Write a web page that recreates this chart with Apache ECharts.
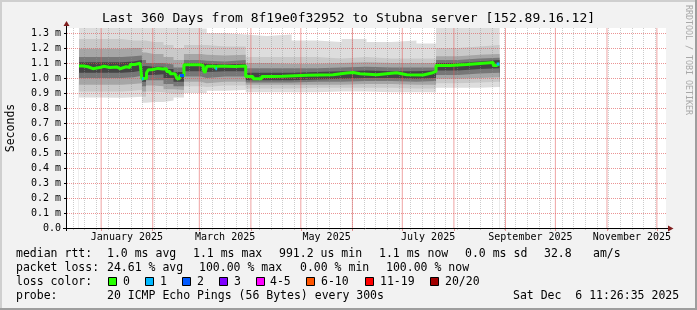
<!DOCTYPE html>
<html><head><meta charset="utf-8">
<script src="https://cdn.jsdelivr.net/npm/echarts@6/dist/echarts.min.js"></script>
<style>html,body{margin:0;padding:0;background:#f2f2f2}#c{width:697px;height:310px}</style>
</head><body><div id="c"></div>
<script>
// ---------- data (x = days since start of the 360 day window, y = ms) ----------
const medianDay = [7.2, 9.6, 12.6, 15.6, 20.4, 22.2, 25.8, 29.9, 31.9, 35.5, 37.9, 40.9, 43.9,
  45.0, 46.0, 47.8, 48.9, 50.9, 54.7, 57.7, 59.9, 61.9, 64.9, 66.1, 67.6, 67.9,
  70.3, 79.9, 81.9, 82.9, 84.0, 89.2, 90.2, 95.0, 101,
  107.4, 111.8, 117, 123, 129.8, 137, 144.1, 152, 159.9, 168.1, 172.1, 176.1, 186.1, 198.1, 204.2, 214.1, 219.2,
  221.8, 230.2, 240.2, 250.2, 256.2, 258.2, 259.9];
const medianVal = [1.080, 1.075, 1.062, 1.072, 1.078, 1.070, 1.074, 1.062, 1.075, 1.070, 1.090, 1.099, 1.105,
  0.995, 0.998, 1.035, 1.055, 1.064, 1.060, 1.062, 1.044, 1.029, 1.017, 0.995, 1.000, 1.017,
  1.088, 1.083, 1.055, 1.035, 1.078, 1.062, 1.078, 1.076, 1.080,
  1.010, 0.995, 1.010, 1.012, 1.015, 1.018, 1.020, 1.022, 1.033, 1.037, 1.028, 1.022, 1.035, 1.022, 1.020, 1.033, 1.044,
  1.083, 1.090, 1.099, 1.104, 1.083, 1.094, 1.094];

// loss markers on the median line: [startDay, endDay, value]
const loss1Segments = [[45.0, 46.0, 0.995], [89.2, 90.2, 1.062], [258.2, 259.9, 1.094]];
const loss2Segments = [[67.9, 70.3, 1.017]];

// smoke (sorted ping envelopes)
const smokeDay  = [7.2, 20, 33, 40, 45.0, 47.5, 52, 58, 64, 70.3, 80.5, 84, 95, 107.4, 120, 135, 150, 165, 180, 195, 210, 221.8, 235, 248, 260];
const smokeTop1 = [1.36, 1.36, 1.36, 1.36, 1.36, 1.36, 1.36, 1.36, 1.36, 1.36, 1.33, 1.30, 1.29, 1.28, 1.29, 1.25, 1.24, 1.26, 1.24, 1.25, 1.23, 1.36, 1.36, 1.36, 1.36];
const smokeTop2 = [1.26, 1.26, 1.25, 1.25, 1.25, 1.24, 1.24, 1.22, 1.20, 1.22, 1.22, 1.21, 1.21, 1.14, 1.14, 1.14, 1.13, 1.14, 1.13, 1.13, 1.13, 1.20, 1.21, 1.22, 1.22];
const smokeTop3 = [1.195, 1.195, 1.20, 1.20, 1.17, 1.16, 1.16, 1.14, 1.12, 1.16, 1.155, 1.15, 1.155, 1.10, 1.095, 1.095, 1.10, 1.105, 1.10, 1.10, 1.10, 1.145, 1.155, 1.16, 1.16];
const smokeTop4 = [1.14, 1.14, 1.145, 1.15, 1.12, 1.10, 1.10, 1.09, 1.07, 1.12, 1.115, 1.11, 1.12, 1.065, 1.065, 1.065, 1.07, 1.075, 1.07, 1.07, 1.07, 1.12, 1.13, 1.135, 1.135];
const smokeTop5 = [1.105, 1.105, 1.11, 1.12, 1.08, 1.075, 1.075, 1.06, 1.04, 1.10, 1.095, 1.09, 1.095, 1.035, 1.035, 1.04, 1.045, 1.05, 1.045, 1.045, 1.05, 1.10, 1.11, 1.12, 1.12];
const smokeBot5 = [1.035, 1.035, 1.04, 1.05, 0.975, 1.02, 1.025, 1.00, 0.975, 1.045, 1.04, 1.045, 1.045, 0.985, 0.985, 0.99, 0.995, 1.00, 1.00, 0.995, 1.00, 1.05, 1.06, 1.065, 1.065];
const smokeBot4 = [1.00, 1.00, 1.005, 1.015, 0.945, 0.985, 0.985, 0.96, 0.945, 1.01, 1.00, 1.01, 1.01, 0.97, 0.97, 0.975, 0.975, 0.98, 0.98, 0.975, 0.98, 1.02, 1.03, 1.035, 1.035];
const smokeBot3 = [0.955, 0.955, 0.96, 0.965, 0.91, 0.95, 0.945, 0.925, 0.92, 0.975, 0.965, 0.975, 0.975, 0.955, 0.955, 0.955, 0.955, 0.96, 0.96, 0.955, 0.955, 0.995, 1.00, 1.005, 1.005];
const smokeBot2 = [0.91, 0.91, 0.915, 0.92, 0.875, 0.91, 0.905, 0.895, 0.895, 0.945, 0.94, 0.95, 0.95, 0.93, 0.93, 0.935, 0.935, 0.935, 0.935, 0.93, 0.93, 0.965, 0.97, 0.975, 0.975];
const smokeBot1 = [0.87, 0.868, 0.872, 0.875, 0.835, 0.84, 0.84, 0.85, 0.87, 0.90, 0.90, 0.915, 0.92, 0.905, 0.905, 0.905, 0.91, 0.91, 0.905, 0.905, 0.905, 0.935, 0.935, 0.94, 0.94];

// axis labels
const yTickLabels = ['0.0', '0.1 m', '0.2 m', '0.3 m', '0.4 m', '0.5 m', '0.6 m', '0.7 m', '0.8 m', '0.9 m', '1.0 m', '1.1 m', '1.2 m', '1.3 m'];
const xTickLabels = ['January 2025', 'March 2025', 'May 2025', 'July 2025', 'September 2025', 'November 2025'];
const xLabelMonths = [[2025, 0], [2025, 2], [2025, 4], [2025, 6], [2025, 8], [2025, 10]];

// texts
const titleText = 'Last 360 Days from 8f19e0f32952 to Stubna server [152.89.16.12]';
const legendRows = [
  [[16, 'median rtt:'], [107, '1.0 ms avg'], [193, '1.1 ms max'], [279, '991.2 us min'], [379, '1.1 ms now'], [465, '0.0 ms sd'], [544, '32.8'], [593, 'am/s']],
  [[16, 'packet loss:'], [107, '24.61 % avg'], [199, '100.00 % max'], [300, '0.00 % min'], [386, '100.00 % now']],
  [[16, 'loss color:']],
  [[16, 'probe:'], [107, '20 ICMP Echo Pings (56 Bytes) every 300s'], [513, 'Sat Dec  6 11:26:35 2025']]
];
const lossLabels = ['0', '1', '2', '3', '4-5', '6-10', '11-19', '20/20'];
const lossColors = ['#26ff00', '#00b8ff', '#0059ff', '#7e00ff', '#ff00ff', '#ff5500', '#ff0000', '#a10000'];
const lossBoxX = [108, 145, 182, 219, 256, 306, 365, 430];
const lossLabelX = [123, 160, 197, 234, 270, 321, 380, 445];

// ---------- build ----------
const GL = 67, GT = 28, GW = 599, GH = 200;
const YMAX = 4 / 3;
const DAY = 86400000;
const startMs = Date.UTC(2024, 11, 11, 11, 26, 35);
const dayOf = ms => (ms - startMs) / DAY;
const monthDays = [], weekDays = [], labelDays = [], labelMap = {};
for (let y = 2024, m = 11; y < 2026; m++) {
  if (m > 11) { m = 0; y++; }
  const d = dayOf(Date.UTC(y, m, 1));
  if (d > 0 && d < 360) monthDays.push(d);
  if (y === 2025 && m === 11) break;
}
for (let t = Date.UTC(2024, 11, 15); dayOf(t) < 360; t += 7 * DAY) weekDays.push(dayOf(t));
xLabelMonths.forEach((ym, k) => {
  const mid = (Date.UTC(ym[0], ym[1], 1) + Date.UTC(ym[0], ym[1] + 1, 1)) / 2;
  const d = dayOf(mid);
  labelDays.push(d);
  labelMap[d.toFixed(3)] = xTickLabels[k];
});
const yCats = [];
for (let i = 0; i <= 40; i++) yCats.push(String(i));

const FONT = '"DejaVu Sans Mono", monospace';
const MGRID = 'rgba(222,79,79,0.6)';
const GRID = 'rgba(143,143,143,0.45)';

const series = [];
const bands = [
  [smokeTop1, '#dddddd'], [smokeTop2, '#c9c9c9'], [smokeTop3, '#a6a6a6'], [smokeTop4, '#777777'], [smokeTop5, '#454545'],
  [smokeBot5, '#777777'], [smokeBot4, '#a6a6a6'], [smokeBot3, '#c9c9c9'], [smokeBot2, '#dddddd'], [smokeBot1, '#ffffff']
];
bands.forEach(b => {
  series.push({
    type: 'line', xAxisIndex: 0, yAxisIndex: 0, step: 'end', symbol: 'none', silent: true, z: 2,
    lineStyle: { opacity: 0, width: 0 },
    areaStyle: { color: b[1], opacity: 1, origin: 'start' },
    data: smokeDay.map((d, i) => [d, b[0][i]])
  });
});
// month grid lines (major, red) drawn through the axis scales
monthDays.forEach(d => {
  series.push({
    type: 'line', xAxisIndex: 0, yAxisIndex: 0, symbol: 'none', silent: true, z: 6,
    lineStyle: { color: 'rgba(226,90,90,0.55)', width: 1 },
    data: [[d, 0], [d, YMAX]]
  });
});
series.push({
  type: 'line', xAxisIndex: 0, yAxisIndex: 0, step: 'end', symbol: 'none', silent: true, z: 10,
  lineStyle: { color: lossColors[0], width: 3 },
  data: medianDay.map((d, i) => [d, medianVal[i]])
});
[[loss1Segments, lossColors[1]], [loss2Segments, lossColors[2]]].forEach(p => {
  p[0].forEach(s => {
    series.push({
      type: 'line', xAxisIndex: 0, yAxisIndex: 0, symbol: 'none', silent: true, z: 11,
      lineStyle: { color: p[1], width: 3 },
      data: [[s[0], s[2]], [s[1], s[2]]]
    });
  });
});

const graphic = [];
graphic.push({ type: 'rect', z: 50, shape: { x: 0, y: 0, width: 697, height: 2 }, style: { fill: '#cfcfcf' } });
graphic.push({ type: 'rect', z: 50, shape: { x: 0, y: 0, width: 2, height: 310 }, style: { fill: '#cfcfcf' } });
graphic.push({ type: 'rect', z: 51, shape: { x: 0, y: 308, width: 697, height: 2 }, style: { fill: '#9e9e9e' } });
graphic.push({ type: 'rect', z: 51, shape: { x: 695, y: 0, width: 2, height: 310 }, style: { fill: '#9e9e9e' } });
graphic.push({ type: 'line', z: 40, shape: { x1: 66.5, y1: 231, x2: 66.5, y2: 24 }, style: { stroke: '#000', lineWidth: 1 } });
graphic.push({ type: 'line', z: 40, shape: { x1: 63, y1: 228.5, x2: 668, y2: 228.5 }, style: { stroke: '#000', lineWidth: 1 } });
graphic.push({ type: 'polygon', z: 41, shape: { points: [[63.5, 26], [69.5, 26], [66.5, 21]] }, style: { fill: '#801f1f' } });
graphic.push({ type: 'polygon', z: 41, shape: { points: [[668, 225.5], [668, 231.5], [673.5, 228.5]] }, style: { fill: '#801f1f' } });
graphic.push({ type: 'text', z: 40, x: 11, y: 128, rotation: Math.PI / 2,
  style: { text: 'Seconds', font: '11.5px ' + FONT, fill: '#000', textAlign: 'center', textVerticalAlign: 'middle', verticalAlign: 'middle' } });
graphic.push({ type: 'text', z: 40, x: 688, y: 60, rotation: -Math.PI / 2,
  style: { text: 'RRDTOOL / TOBI OETIKER', font: '8.3px ' + FONT, fill: '#a8a8a8', textAlign: 'center', textVerticalAlign: 'middle', verticalAlign: 'middle' } });
const rowY = [254.5, 268.5, 282.5, 296.5];
legendRows.forEach((row, r) => row.forEach(t => {
  graphic.push({ type: 'text', z: 40, x: t[0], y: rowY[r],
    style: { text: t[1], font: '11.5px ' + FONT, fill: '#000', textVerticalAlign: 'middle', verticalAlign: 'middle' } });
}));
lossColors.forEach((c, k) => {
  graphic.push({ type: 'rect', z: 40, shape: { x: lossBoxX[k] + 0.5, y: 277.5, width: 8, height: 8 }, style: { fill: c, stroke: '#000', lineWidth: 1 } });
  graphic.push({ type: 'text', z: 40, x: lossLabelX[k], y: rowY[2],
    style: { text: lossLabels[k], font: '11.5px ' + FONT, fill: '#000', textVerticalAlign: 'middle', verticalAlign: 'middle' } });
});

const option = {
  animation: false,
  backgroundColor: '#f2f2f2',
  title: { text: titleText, left: 'center', top: 7, textStyle: { fontFamily: FONT, fontSize: 13, fontWeight: 'normal', color: '#000' } },
  grid: { left: GL, top: GT, width: GW, height: GH, show: true, backgroundColor: '#ffffff', borderWidth: 0 },
  xAxis: [
    { type: 'value', min: 0, max: 360, show: false, position: 'bottom' },
    { type: 'value', min: 0, max: 360, z: 5, position: 'bottom', offset: 0,
      axisLine: { show: false }, axisLabel: { show: false },
      axisTick: { show: true, customValues: weekDays, length: 2, lineStyle: { color: GRID } },
      splitLine: { show: true, lineStyle: { color: GRID, type: [1, 1], width: 1 } } },
    { type: 'value', min: 0, max: 360, z: 6, position: 'bottom', offset: 0,
      axisLine: { show: false },
      axisTick: { show: true, customValues: monthDays, length: 3, lineStyle: { color: MGRID } },
      splitLine: { show: false },
      axisLabel: { show: true, customValues: labelDays, formatter: v => labelMap[Number(v).toFixed(3)] || '',
        fontFamily: FONT, fontSize: 10, color: '#000', margin: 4 } }
  ],
  yAxis: [
    { type: 'value', min: 0, max: YMAX, show: false, position: 'left' },
    { type: 'category', data: yCats, boundaryGap: false, z: 6, position: 'left', offset: 0,
      axisLine: { show: false },
      axisTick: { show: true, interval: i => i % 3 === 0, length: 3, lineStyle: { color: '#000' } },
      splitLine: { show: true, interval: i => i % 3 === 0 && i > 0, lineStyle: { color: MGRID, type: [1, 1], width: 1 } },
      axisLabel: { show: true, interval: i => i % 3 === 0, formatter: (v, i) => (i % 3 === 0 ? yTickLabels[i / 3] : ''),
        fontFamily: FONT, fontSize: 10, color: '#000', margin: 6 } }
  ],
  series: series,
  graphic: graphic
};
const chart = echarts.init(document.getElementById('c'), null, { renderer: 'canvas' });
chart.setOption(option);
</script>
</body></html>
